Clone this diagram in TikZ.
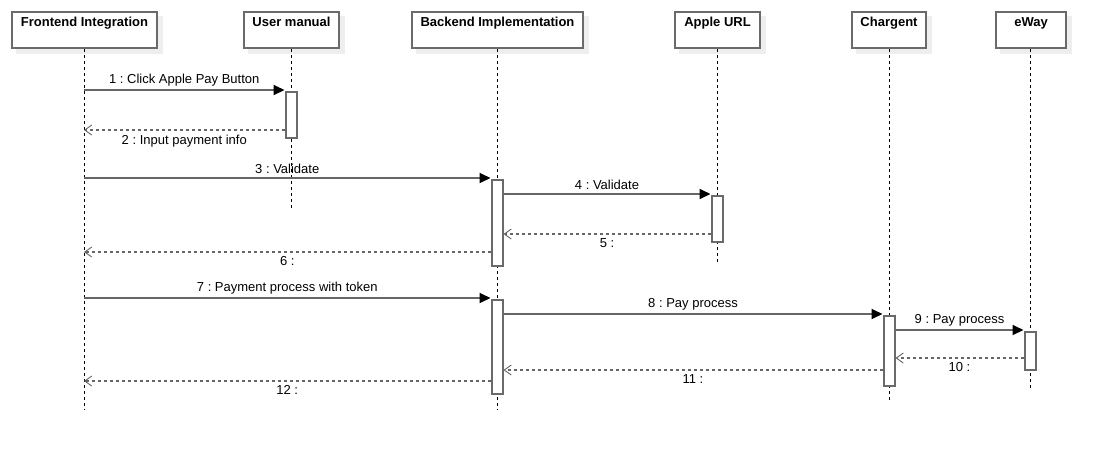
\documentclass[tikz,border=0pt]{standalone}
\usepackage{fontspec}
\setmainfont{Liberation Sans}
\usetikzlibrary{arrows.meta}
\frenchspacing
\definecolor{bordc}{HTML}{6A6A6A}
\definecolor{shadc}{HTML}{EEEEEE}
\definecolor{linec}{HTML}{666666}
\tikzset{
  head/.style={draw=bordc, line width=2pt, fill=white, minimum height=36pt, inner sep=0pt, anchor=north west},
  headtxt/.style={font=\fontsize{13}{15}\selectfont\bfseries, anchor=north, inner sep=0pt},
  life/.style={draw=black, line width=0.9pt, dash pattern=on 3pt off 3pt},
  actbox/.style={draw=bordc, line width=2pt, fill=white, minimum width=11pt, inner sep=0pt},
  msg/.style={draw=linec, line width=1.8pt, -{Triangle[length=11pt,width=10pt,fill=black,color=black]}},
  ret/.style={draw=linec, line width=1.6pt, dash pattern=on 3pt off 3pt, -{Straight Barb[length=7pt,width=10pt,line width=0.9pt]}},
  lbl/.style={font=\fontsize{13}{15}\selectfont\frenchspacing, inner sep=0pt, text=black}
}
\begin{document}
\begin{tikzpicture}[x=1pt,y=-1pt]
\useasboundingbox (0,0) rectangle (1105,451);
% shadows
\foreach \xa/\xb in {10/157, 242/339, 410/583, 673/760, 850/926, 994/1066}{
  \fill[shadc] (\xa+6,16) rectangle (\xb+6,54);
}
% headers
\node[head, minimum width=145pt] (fe) at (11,11) {};
\node[head, minimum width=95pt] (um) at (243,11) {};
\node[head, minimum width=171pt] (be) at (411,11) {};
\node[head, minimum width=85pt] (ap) at (674,11) {};
\node[head, minimum width=74pt] (ch) at (851,11) {};
\node[head, minimum width=70pt] (ew) at (995,11) {};
\node[headtxt] (fet) at ([yshift=-6pt]fe.north) {Frontend Integration};
\node[headtxt] (umt) at ([yshift=-6pt]um.north) {User manual};
\node[headtxt] (bet) at ([yshift=-6pt]be.north) {Backend Implementation};
\node[headtxt] (apt) at ([yshift=-6pt]ap.north) {Apple URL};
\node[headtxt] (cht) at ([yshift=-6pt]ch.north) {Chargent};
\node[headtxt] (ewt) at ([yshift=-6pt]ew.north) {eWay};
% lifeline ends
\coordinate (feE) at (84,410);
\coordinate (umE) at (291,210);
\coordinate (beE) at (497,410);
\coordinate (apE) at (717,263);
\coordinate (chE) at (889,400);
\coordinate (ewE) at (1030,388);
\draw[life] (fe.south -| feE) -- (feE);
\draw[life] (um.south -| umE) -- (umE);
\draw[life] (be.south -| beE) -- (beE);
\draw[life] (ap.south -| apE) -- (apE);
\draw[life] (ch.south -| chE) -- (chE);
\draw[life] (ew.south -| ewE) -- (ewE);
% activations
\node[actbox, minimum height=46pt, anchor=north] (a1) at (291,91) {};
\node[actbox, minimum height=86pt, anchor=north] (a2) at (497,179) {};
\node[actbox, minimum height=46pt, anchor=north] (a3) at (717,195) {};
\node[actbox, minimum height=94pt, anchor=north] (a4) at (497,299) {};
\node[actbox, minimum height=70pt, anchor=north] (a5) at (889,315) {};
\node[actbox, minimum height=38pt, anchor=north] (a6) at (1030,331) {};
% source coordinates on Frontend lifeline
\coordinate (f1) at (84,90);
\coordinate (f2) at (84,130);
\coordinate (f3) at (84,178);
\coordinate (f6) at (84,252);
\coordinate (f7) at (84,298);
\coordinate (f12) at (84,381);
% messages
\draw[msg] (f1) -- (a1.west |- f1) node[lbl, midway, above=3pt] (l1) {1 : Click Apple Pay Button};
\draw[ret] (a1.west |- f2) -- (f2) node[lbl, midway, below=4pt] (l2) {2 : Input payment info};
\draw[msg] (f3) -- (a2.west |- f3) node[lbl, midway, above=3pt] (l3) {3 : Validate};
\draw[msg] (a2.east |- 0,194) -- (a3.west |- 0,194) node[lbl, midway, above=3pt] (l4) {4 : Validate};
\draw[ret] (a3.west |- 0,234) -- (a2.east |- 0,234) node[lbl, midway, below=4pt] (l5) {5 :};
\draw[ret] (a2.west |- f6) -- (f6) node[lbl, midway, below=4pt] (l6) {6 :};
\draw[msg] (f7) -- (a4.west |- f7) node[lbl, midway, above=3pt] (l7) {7 : Payment process with token};
\draw[msg] (a4.east |- 0,314) -- (a5.west |- 0,314) node[lbl, midway, above=3pt] (l8) {8 : Pay process};
\draw[msg] (a5.east |- 0,330) -- (a6.west |- 0,330) node[lbl, midway, above=3pt] (l9) {9 : Pay process};
\draw[ret] (a6.west |- 0,358) -- (a5.east |- 0,358) node[lbl, midway, below=4pt] (l10) {10 :};
\draw[ret] (a5.west |- 0,370) -- (a4.east |- 0,370) node[lbl, midway, below=4pt] (l11) {11 :};
\draw[ret] (a4.west |- f12) -- (f12) node[lbl, midway, below=4pt] (l12) {12 :};
\end{tikzpicture}
\end{document}
